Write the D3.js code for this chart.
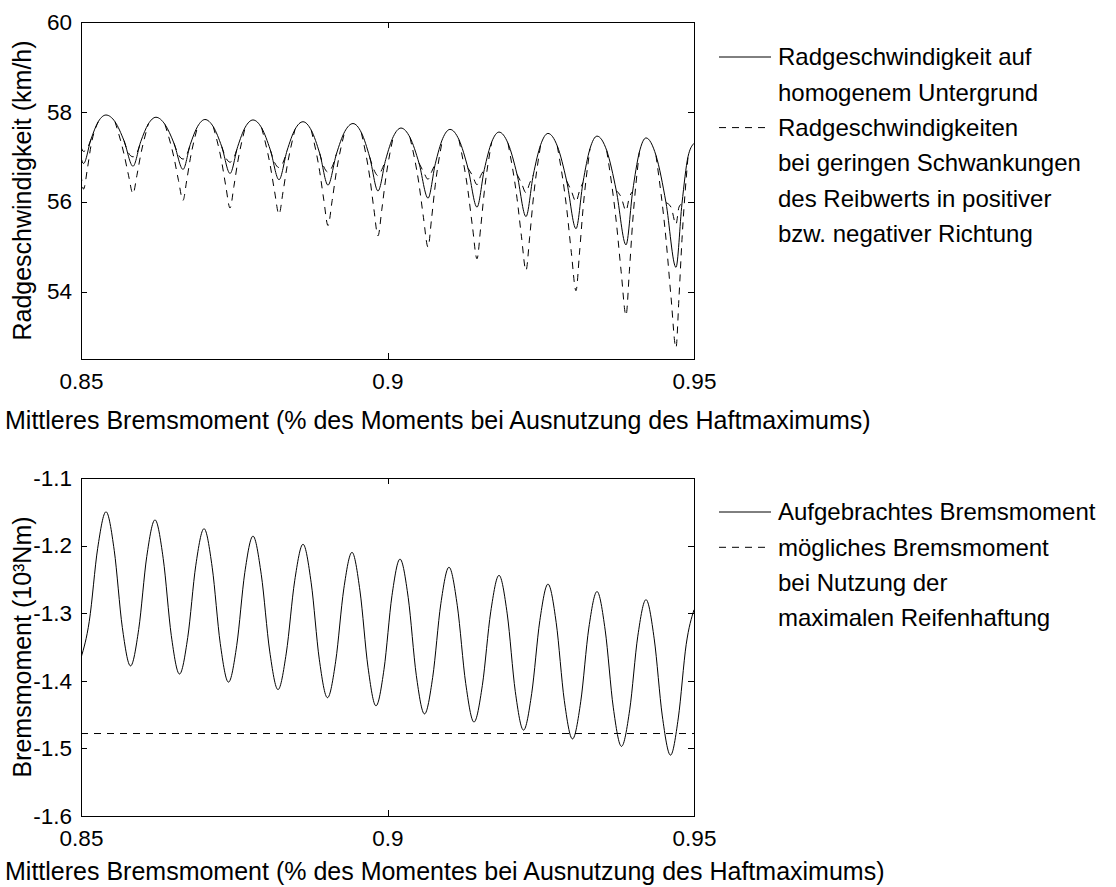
<!DOCTYPE html>
<html>
<head>
<meta charset="utf-8">
<script src="https://cdn.jsdelivr.net/npm/d3@7"></script>
<style>
  html, body { margin: 0; padding: 0; background: #fff; }
  svg { display: block; }
  text { font-family: "Liberation Sans", Arial, Helvetica, sans-serif; fill: #000; }
</style>
</head>
<body>
<svg id="chart" width="1116" height="887"></svg>
<script>
// ---- Wheel speed on homogeneous ground (km/h) ----
const speedX = [
  0.85000, 0.85041, 0.85163, 0.85285, 0.85408, 0.85555, 0.85701,
  0.85848, 0.85974, 0.86098, 0.86223, 0.86370, 0.86517,
  0.86664, 0.86783, 0.86904, 0.87023, 0.87158, 0.87295,
  0.87431, 0.87556, 0.87680, 0.87806, 0.87948, 0.88088,
  0.88230, 0.88361, 0.88491, 0.88622, 0.88757, 0.88894,
  0.89029, 0.89165, 0.89302, 0.89437, 0.89573, 0.89710,
  0.89845, 0.89971, 0.90095, 0.90220, 0.90367, 0.90514,
  0.90661, 0.90780, 0.90900, 0.91020, 0.91166, 0.91313,
  0.91460, 0.91579, 0.91700, 0.91819, 0.91966, 0.92113,
  0.92259, 0.92378, 0.92499, 0.92618, 0.92770, 0.92923,
  0.93075, 0.93189, 0.93303, 0.93418, 0.93576, 0.93732,
  0.93891, 0.93999, 0.94108, 0.94217, 0.94380, 0.94543,
  0.94706, 0.94804, 0.94902, 0.95000
];
const speedHomogeneous = [
  56.98, 56.85, 57.39, 57.79, 57.93, 57.78, 57.36,
  56.79, 57.335, 57.73, 57.88, 57.72, 57.30,
  56.72, 57.275, 57.68, 57.83, 57.67, 57.23,
  56.63, 57.225, 57.66, 57.82, 57.64, 57.155,
  56.49, 57.135, 57.61, 57.78, 57.59, 57.075,
  56.37, 57.055, 57.56, 57.74, 57.54, 56.99,
  56.24, 56.94, 57.45, 57.64, 57.43, 56.86,
  56.08, 56.845, 57.405, 57.61, 57.38, 56.745,
  55.88, 56.715, 57.33, 57.55, 57.30, 56.61,
  55.67, 56.595, 57.27, 57.52, 57.24, 56.46,
  55.40, 56.43, 57.18, 57.46, 57.14, 56.25,
  55.04, 56.23, 57.10, 57.42, 57.03, 55.98,
  54.54, 55.96, 57.00, 57.30
];

// ---- Wheel speed with slightly lower friction (deep dips); null = gap ----
const speedLowX = [
  0.85000, 0.85041, 0.85106, 0.85163, 0.85285, null,
  0.85555, 0.85701, 0.85775, 0.85848, 0.85911, 0.85974, 0.86098, null,
  0.86370, 0.86517, 0.86591, 0.86664, 0.86724, 0.86783, 0.86904, null,
  0.87158, 0.87295, 0.87363, 0.87431, 0.87494, 0.87556, 0.87680, null,
  0.87948, 0.88088, 0.88159, 0.88230, 0.88295, 0.88361, 0.88491, null,
  0.88757, 0.88894, 0.88962, 0.89029, 0.89097, 0.89165, 0.89302, null,
  0.89573, 0.89710, 0.89777, 0.89845, 0.89908, 0.89971, 0.90095, null,
  0.90367, 0.90514, 0.90587, 0.90661, 0.90720, 0.90780, 0.90900, null,
  0.91166, 0.91313, 0.91387, 0.91460, 0.91520, 0.91579, 0.91700, null,
  0.91966, 0.92113, 0.92186, 0.92259, 0.92319, 0.92378, 0.92499, null,
  0.92770, 0.92923, 0.92999, 0.93075, 0.93132, 0.93189, 0.93303, null,
  0.93576, 0.93732, 0.93812, 0.93891, 0.93945, 0.93999, 0.94108, null,
  0.94380, 0.94543, 0.94625, 0.94706, 0.94755, 0.94804, 0.94902
];
const speedLow = [
  56.62, 56.28, 56.75, 57.25, 57.79, null,
  57.78, 57.065, 56.59, 56.18, 56.58, 57.046, 57.73, null,
  57.72, 56.98, 56.47, 56.03, 56.47, 56.96, 57.68, null,
  57.67, 56.89, 56.34, 55.86, 56.34, 56.88, 57.66, null,
  57.64, 56.80, 56.22, 55.72, 56.215, 56.78, 57.61, null,
  57.59, 56.67, 56.03, 55.47, 56.025, 56.66, 57.56, null,
  57.54, 56.55, 55.85, 55.24, 55.835, 56.515, 57.45, null,
  57.43, 56.39, 55.645, 54.99, 55.64, 56.38, 57.405, null,
  57.38, 56.24, 55.435, 54.73, 55.425, 56.22, 57.33, null,
  57.30, 56.075, 55.22, 54.47, 55.21, 56.06, 57.27, null,
  57.24, 55.85, 54.87, 54.02, 54.86, 55.83, 57.18, null,
  57.14, 55.555, 54.44, 53.47, 54.44, 55.54, 57.10, null,
  57.03, 55.17, 53.88, 52.75, 53.87, 55.16, 57.00
];

// ---- Wheel speed with slightly higher friction (shallow dips); null = gap ----
const speedHighX = [
  0.85000, 0.85041, 0.85106, 0.85163, null,
  0.85701, 0.85775, 0.85848, 0.85911, 0.85974, null,
  0.86517, 0.86591, 0.86664, 0.86724, 0.86783, null,
  0.87295, 0.87363, 0.87431, 0.87494, 0.87556, null,
  0.88088, 0.88159, 0.88230, 0.88295, 0.88361, null,
  0.88894, 0.88962, 0.89029, 0.89097, 0.89165, null,
  0.89710, 0.89777, 0.89845, 0.89908, 0.89971, null,
  0.90514, 0.90587, 0.90661, 0.90720, 0.90780, null,
  0.91313, 0.91387, 0.91460, 0.91520, 0.91579, null,
  0.92113, 0.92186, 0.92259, 0.92319, 0.92378, null,
  0.92923, 0.92999, 0.93075, 0.93132, 0.93189, null,
  0.93732, 0.93812, 0.93891, 0.93945, 0.93999, null,
  0.94543, 0.94625, 0.94706, 0.94755, 0.94804
];
const speedHigh = [
  57.22, 57.12, 57.20, 57.39, null,
  57.36, 57.086, 57.00, 57.084, 57.335, null,
  57.30, 57.042, 56.95, 57.042, 57.275, null,
  57.23, 56.98, 56.88, 56.98, 57.225, null,
  57.155, 56.87, 56.76, 56.87, 57.135, null,
  57.075, 56.776, 56.66, 56.776, 57.055, null,
  56.99, 56.716, 56.58, 56.716, 56.94, null,
  56.86, 56.668, 56.50, 56.668, 56.845, null,
  56.745, 56.58, 56.38, 56.58, 56.715, null,
  56.61, 56.412, 56.20, 56.412, 56.595, null,
  56.46, 56.24, 56.00, 56.24, 56.43, null,
  56.25, 56.10, 55.80, 56.10, 56.23, null,
  55.98, 55.88, 55.50, 55.88, 55.96
];

// ---- Applied braking torque (10^3 Nm) ----
const torqueX = [
  0.85000, 0.85135, 0.85272, 0.85408, 0.85542, 0.85674,
  0.85808, 0.85941, 0.86073, 0.86207, 0.86341, 0.86473,
  0.86607, 0.86741, 0.86873, 0.87007, 0.87140, 0.87272,
  0.87406, 0.87540, 0.87672, 0.87806, 0.87941, 0.88078,
  0.88214, 0.88349, 0.88486, 0.88622, 0.88755, 0.88887,
  0.89021, 0.89155, 0.89287, 0.89421, 0.89551, 0.89682,
  0.89812, 0.89943, 0.90073, 0.90204, 0.90338, 0.90470,
  0.90604, 0.90737, 0.90870, 0.91003, 0.91139, 0.91276,
  0.91411, 0.91547, 0.91684, 0.91819, 0.91953, 0.92085,
  0.92219, 0.92352, 0.92485, 0.92618, 0.92752, 0.92884,
  0.93018, 0.93152, 0.93284, 0.93418, 0.93551, 0.93684,
  0.93817, 0.93951, 0.94083, 0.94217, 0.94351, 0.94483,
  0.94617, 0.94744, 0.94873, 0.95000
];
const torqueApplied = [
  -1.366, -1.312, -1.204, -1.150, -1.207, -1.321,
  -1.378, -1.324, -1.216, -1.162, -1.219, -1.333,
  -1.390, -1.336, -1.229, -1.175, -1.232, -1.345,
  -1.402, -1.348, -1.240, -1.186, -1.243, -1.356,
  -1.413, -1.359, -1.252, -1.198, -1.255, -1.368,
  -1.425, -1.371, -1.264, -1.210, -1.267, -1.380,
  -1.437, -1.383, -1.274, -1.220, -1.277, -1.392,
  -1.449, -1.395, -1.286, -1.232, -1.289, -1.404,
  -1.461, -1.407, -1.298, -1.244, -1.301, -1.416,
  -1.473, -1.419, -1.311, -1.257, -1.314, -1.429,
  -1.486, -1.431, -1.322, -1.268, -1.325, -1.440,
  -1.497, -1.443, -1.334, -1.280, -1.338, -1.452,
  -1.510, -1.455, -1.346, -1.295
];

// ---- Torque available at maximum tyre grip ----
const limitX = [0.85, 0.95];
const torqueLimit = [-1.478, -1.478];

// ---- Axis ticks and texts ----
const xTicks = [0.85, 0.9, 0.95];
const xTickLabels = ["0.85", "0.9", "0.95"];
const speedTicks = [54, 56, 58, 60];
const speedTickLabels = ["54", "56", "58", "60"];
const torqueTicks = [-1.6, -1.5, -1.4, -1.3, -1.2, -1.1];
const torqueTickLabels = ["-1.6", "-1.5", "-1.4", "-1.3", "-1.2", "-1.1"];

const speedLegend = [
  { text: "Radgeschwindigkeit auf", key: "solid" },
  { text: "homogenem Untergrund", key: null },
  { text: "Radgeschwindigkeiten", key: "dash" },
  { text: "bei geringen Schwankungen", key: null },
  { text: "des Reibwerts in positiver", key: null },
  { text: "bzw. negativer Richtung", key: null }
];
const torqueLegend = [
  { text: "Aufgebrachtes Bremsmoment", key: "solid" },
  { text: "mögliches Bremsmoment", key: "dash" },
  { text: "bei Nutzung der", key: null },
  { text: "maximalen Reifenhaftung", key: null }
];

// ---- Layout ----
const TICK_FS = 22.5;
const LEGEND_FS = 24;
const TITLE_FS = 25;
const DASH = "7,6";
const svg = d3.select("#chart");

function zip(xs, ys) { return xs.map((v, i) => [v, ys[i]]); }

function drawPanel(o) {
  const x = d3.scaleLinear().domain([0.85, 0.95]).range([o.left, o.right]);
  const y = d3.scaleLinear().domain(o.yDomain).range([o.bottom, o.top]);
  const g = svg.append("g");

  const clipId = "clip-" + o.id;
  svg.append("clipPath").attr("id", clipId)
    .append("rect")
    .attr("x", o.left).attr("y", o.top)
    .attr("width", o.right - o.left).attr("height", o.bottom - o.top);

  const xFmt = (d) => xTickLabels[xTicks.indexOf(d)];
  const yFmt = (d) => o.yLabels[o.yTicks.indexOf(d)];

  const axB = g.append("g").attr("transform", `translate(0,${o.bottom})`)
    .call(d3.axisBottom(x).tickValues(xTicks).tickFormat(xFmt).tickSize(-6).tickPadding(14));
  const axT = g.append("g").attr("transform", `translate(0,${o.top})`)
    .call(d3.axisTop(x).tickValues(xTicks).tickFormat("").tickSize(-6));
  const axL = g.append("g").attr("transform", `translate(${o.left},0)`)
    .call(d3.axisLeft(y).tickValues(o.yTicks).tickFormat(yFmt).tickSize(-6).tickPadding(9));
  const axR = g.append("g").attr("transform", `translate(${o.right},0)`)
    .call(d3.axisRight(y).tickValues(o.yTicks).tickFormat("").tickSize(-6));

  [axB, axT, axL, axR].forEach(a => {
    a.select(".domain").remove();
    a.selectAll("line").attr("stroke", "#000").attr("shape-rendering", "crispEdges");
    a.selectAll("text").attr("font-size", TICK_FS).attr("font-family", null).attr("fill", "#000");
  });

  g.append("rect")
    .attr("x", o.left).attr("y", o.top)
    .attr("width", o.right - o.left).attr("height", o.bottom - o.top)
    .attr("fill", "none").attr("stroke", "#000").attr("stroke-width", 1)
    .attr("shape-rendering", "crispEdges");

  const line = d3.line()
    .defined(d => d[0] != null && d[1] != null)
    .x(d => x(d[0])).y(d => y(d[1]))
    .curve(d3.curveMonotoneX);

  const plot = g.append("g").attr("clip-path", `url(#${clipId})`);
  o.series.forEach(s => {
    plot.append("path")
      .attr("d", line(zip(s.x, s.y)))
      .attr("fill", "none").attr("stroke", "#000").attr("stroke-width", 1)
      .attr("stroke-dasharray", s.dashed ? DASH : null);
  });

  // axis titles
  g.append("text")
    .attr("x", o.xTitleX).attr("y", o.xTitleY)
    .attr("font-size", TITLE_FS)
    .text(o.xTitle);
  g.append("text")
    .attr("transform", `translate(${o.yTitleX},${(o.top + o.bottom) / 2}) rotate(-90)`)
    .attr("text-anchor", "middle").attr("dy", "0.35em")
    .attr("font-size", TITLE_FS)
    .text(o.yTitle);

  // legend
  const lg = g.append("g");
  o.legend.forEach((item, i) => {
    const ly = o.legendY + i * o.legendStep;
    if (item.key) {
      lg.append("line")
        .attr("x1", o.legendLineX0).attr("x2", o.legendLineX1)
        .attr("y1", ly).attr("y2", ly)
        .attr("stroke", "#000").attr("stroke-width", 1)
        .attr("stroke-dasharray", item.key === "dash" ? DASH : null);
    }
    lg.append("text")
      .attr("x", o.legendTextX).attr("y", ly).attr("dy", "0.35em")
      .attr("font-size", LEGEND_FS)
      .text(item.text);
  });
}

drawPanel({
  id: "speed",
  left: 81, right: 694, top: 22, bottom: 359,
  yDomain: [52.5, 60],
  yTicks: speedTicks, yLabels: speedTickLabels,
  series: [
    { x: speedX, y: speedHomogeneous, dashed: false },
    { x: speedLowX, y: speedLow, dashed: true },
    { x: speedHighX, y: speedHigh, dashed: true }
  ],
  xTitle: "Mittleres Bremsmoment (% des Moments bei Ausnutzung des Haftmaximums)",
  xTitleX: 5, xTitleY: 429,
  yTitle: "Radgeschwindigkeit (km/h)", yTitleX: 22,
  legend: speedLegend,
  legendY: 57, legendStep: 35.3,
  legendLineX0: 719, legendLineX1: 771, legendTextX: 778
});

drawPanel({
  id: "torque",
  left: 81, right: 694, top: 478, bottom: 816,
  yDomain: [-1.6, -1.1],
  yTicks: torqueTicks, yLabels: torqueTickLabels,
  series: [
    { x: torqueX, y: torqueApplied, dashed: false },
    { x: limitX, y: torqueLimit, dashed: true }
  ],
  xTitle: "Mittleres Bremsmoment (% des Momentes bei Ausnutzung des Haftmaximums)",
  xTitleX: 5, xTitleY: 880,
  yTitle: "Bremsmoment (10³Nm)", yTitleX: 22,
  legend: torqueLegend,
  legendY: 512, legendStep: 35.3,
  legendLineX0: 719, legendLineX1: 771, legendTextX: 778
});
</script>
</body>
</html>
